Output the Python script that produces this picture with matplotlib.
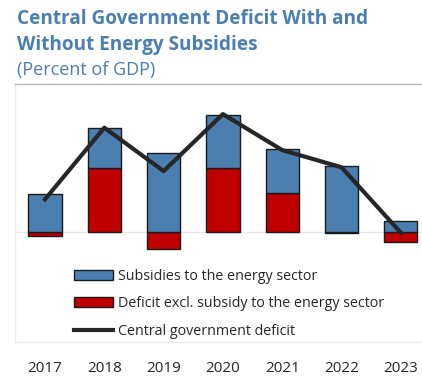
import matplotlib
matplotlib.use("Agg")
import matplotlib.pyplot as plt
from matplotlib.patches import Patch
from matplotlib.lines import Line2D
import numpy as np

years = ["2017", "2018", "2019", "2020", "2021", "2022", "2023"]
subsidies = [1.87, 2.00, 3.92, 2.67, 2.18, 3.27, 0.53]      # subsidies to the energy sector
deficit_excl = [-0.21, 3.17, -0.85, 3.17, 1.93, -0.08, -0.53]  # deficit excl. energy subsidy
deficit_total = [1.62, 5.20, 3.03, 5.88, 4.08, 3.22, -0.05]   # central government deficit

blue = "#4a7fb0"
red = "#c00000"
title_blue = "#4a7fb0"

plt.rcParams["font.family"] = ["Open Sans", "DejaVu Sans"]

fig = plt.figure(figsize=(4.22, 3.77), dpi=100)
W, H = 422, 377
ax = fig.add_axes([15 / W, 1 - 341.7 / H, 1 - 15 / W, (341.7 - 84) / H])

x = np.arange(len(years))
width = 0.56
# red part starts at zero; blue stacks on top of the positive red part
red_pos = np.clip(deficit_excl, 0, None)
ax.bar(x, deficit_excl, width, color=red, edgecolor="#1a1a1a", linewidth=1, zorder=2)
ax.bar(x, subsidies, width, bottom=red_pos, color=blue, edgecolor="#1a1a1a", linewidth=1, zorder=2)
ax.plot(x, deficit_total, color="#262626", linewidth=3, zorder=3)

ax.axhline(0, color="#e6e6e6", linewidth=1, zorder=1)
ax.set_xlim(-0.506, 6.357)
ax.set_ylim(-5.5, 7.385)

for side in ["left", "bottom"]:
    ax.spines[side].set_color("#ececec")
    ax.spines[side].set_linewidth(1)
ax.spines["right"].set_visible(False)
ax.spines["top"].set_color("#b4b4b4")
ax.spines["top"].set_linewidth(1)

ax.set_yticks([])
ax.set_xticks(x)
ax.set_xticklabels(years, fontsize=11, color="#262626")
ax.tick_params(axis="x", length=0, pad=14)

handles = [
    Patch(facecolor=blue, edgecolor="#1a1a1a", linewidth=1),
    Patch(facecolor=red, edgecolor="#1a1a1a", linewidth=1),
    Line2D([0], [0], color="#262626", linewidth=3),
]
labels = ["Subsidies to the energy sector",
          "Deficit excl. subsidy to the energy sector",
          "Central government deficit"]
leg = ax.legend(handles, labels, loc="upper left", bbox_to_anchor=(0.13, 0.305),
                frameon=False, fontsize=10.3, handlelength=2.75, handletextpad=0.35,
                labelspacing=0.88, borderaxespad=0)
for t in leg.get_texts():
    t.set_color("#262626")

fig.text(17 / W, 1 - 24 / H, "Central Government Deficit With and",
         fontsize=13.7, fontweight="bold", color=title_blue, va="baseline")
fig.text(17 / W, 1 - 50 / H, "Without Energy Subsidies",
         fontsize=13.7, fontweight="bold", color=title_blue, va="baseline")
fig.text(17 / W, 1 - 75 / H, "(Percent of GDP)",
         fontsize=13, color=title_blue, va="baseline")

fig.savefig("out.png", dpi=100)
